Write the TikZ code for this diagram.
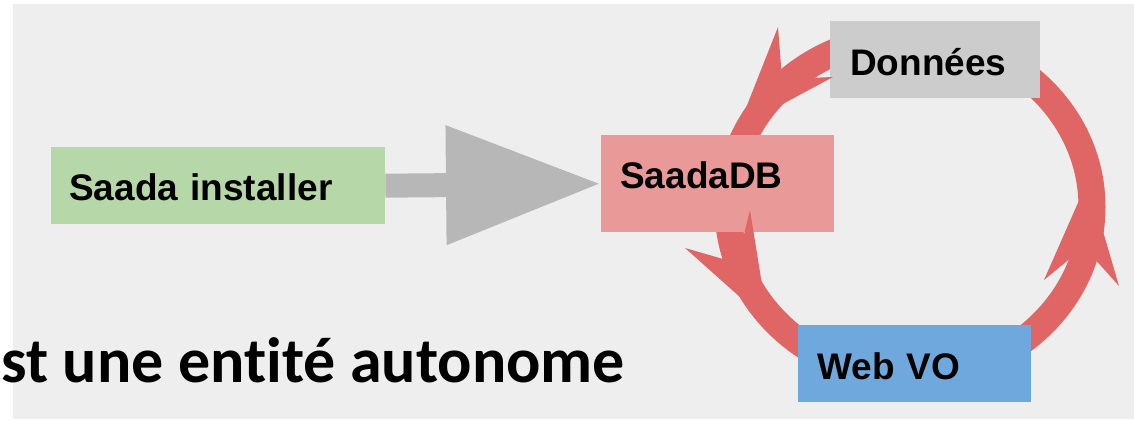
\documentclass[tikz,border=0pt]{standalone}
\usepackage{fontspec}
\setmainfont{Liberation Sans}
\newfontfamily\carlito[Ligatures=NoCommon]{Carlito}
\usetikzlibrary{arrows.meta}
\definecolor{bgc}{HTML}{EEEEEE}
\definecolor{greenc}{HTML}{B6D7A8}
\definecolor{pinkc}{HTML}{EA9999}
\definecolor{greyc}{HTML}{CCCCCC}
\definecolor{bluec}{HTML}{6FA8DC}
\definecolor{redc}{HTML}{E06666}
\definecolor{arrowc}{HTML}{B7B7B7}
\tikzset{
  boxn/.style={rectangle, inner ysep=0pt, anchor=north west, align=left,
    font=\bfseries\fontsize{37}{40}\selectfont, text=black},
  headn/.style={fill=redc, draw=none},
}
\begin{document}
\begin{tikzpicture}[x=1pt,y=-1pt]
\useasboundingbox (0,0) rectangle (1134,421);
\fill[bgc] (13,4) rectangle (1134,419);
% ring band
\draw[redc, line width=27pt] (910,207) ellipse [x radius=182pt, y radius=170pt];
% boxes
\node[boxn, fill=greenc, minimum width=334pt, minimum height=77pt, inner xsep=18pt,
  text width=298pt, text height=29pt, text depth=0pt] (inst) at (51,147) {Saada installer};
\node[boxn, fill=pinkc, minimum width=233pt, minimum height=97pt, inner xsep=19pt,
  text width=195pt, text height=26pt, text depth=17pt] (db) at (601,135) {SaadaDB};
\node[boxn, fill=greyc, minimum width=210pt, minimum height=77pt, inner xsep=20pt,
  text width=170pt, text height=31pt, text depth=0pt] (don) at (830,21) {Données};
\node[boxn, fill=bluec, minimum width=233pt, minimum height=77pt, inner xsep=19pt,
  text width=195pt, text height=31pt, text depth=0pt] (web) at (798,325) {Web VO};
% gray arrow
\draw[arrowc, line width=24pt, -{Triangle[length=155pt 0 0, width=113pt 0 0]}]
  (inst.east) -- (db.west);
% arrow heads on the ring
\fill[headn] (738,128) -- (778,27) -- (782,79) -- (833,77) -- cycle;
\fill[headn] (768,322) -- (685,248) -- (737,263) -- (750,210) -- cycle;
\fill[headn] (1088,180) -- (1044,280) -- (1084,247) -- (1119,286) -- cycle;
% title
\node[anchor=base west, inner sep=0pt, font=\carlito\bfseries\fontsize{64}{70}\selectfont]
  (title) at (1,382) {st une entité autonome};
\end{tikzpicture}
\end{document}
